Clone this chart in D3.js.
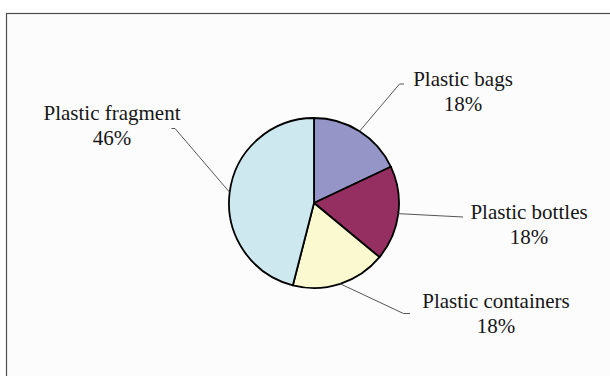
<!DOCTYPE html>
<html>
<head>
<meta charset="utf-8">
<script src="https://cdn.jsdelivr.net/npm/d3@7/dist/d3.min.js"></script>
<style>
  html, body { margin: 0; padding: 0; background: #ffffff; }
  svg { display: block; }
  text { font-family: "Liberation Serif", "Times New Roman", serif; fill: #161616; }
</style>
</head>
<body>
<svg id="chart" width="610" height="376"></svg>
<script>
// Composition of plastic debris (percent share)
const categories = ["Plastic bags", "Plastic bottles", "Plastic containers", "Plastic fragment"];
const shares = [18, 18, 18, 46];
const sliceColors = ["#9595c8", "#952f62", "#faf9cf", "#cde9ef"];

const W = 610, H = 376;
const cx = 314, cy = 203, R = 85;
const fontSize = 21, lineGap = 25;

// Label block placement: text centre x, first baseline y, and leader route
const labelLayout = {
  "Plastic bags":       { x: 463, y: 86,  route: [[399.5, 84], [404, 84]] },
  "Plastic bottles":    { x: 529, y: 219, route: [[463, 217]] },
  "Plastic containers": { x: 496, y: 308, route: [[403.5, 313.5], [410, 313.5]] },
  "Plastic fragment":   { x: 112, y: 120, route: [[175, 128.5], [171.5, 128.5]] }
};

const svg = d3.select("#chart");

// Chart area frame
svg.append("rect")
  .attr("x", 6.5).attr("y", 13.5)
  .attr("width", W + 20).attr("height", H + 20)
  .attr("fill", "#fcfcfc")
  .attr("stroke", "#4d4d4d")
  .attr("stroke-width", 1.2);

const data = categories.map((c, i) => ({ name: c, value: shares[i], color: sliceColors[i] }));

const pie = d3.pie().value(d => d.value).sort(null);
const arc = d3.arc().innerRadius(0).outerRadius(R);
const arcs = pie(data);

const g = svg.append("g").attr("transform", `translate(${cx},${cy})`);

// Leader lines from slice mid-angle on the rim to each label
const leaders = svg.append("g")
  .attr("fill", "none")
  .attr("stroke", "#555555")
  .attr("stroke-width", 1);

arcs.forEach(a => {
  const mid = (a.startAngle + a.endAngle) / 2;
  const start = [cx + R * Math.sin(mid), cy - R * Math.cos(mid)];
  const pts = [start].concat(labelLayout[a.data.name].route);
  leaders.append("path").attr("d", d3.line()(pts));
});

// Slices
g.selectAll("path.slice")
  .data(arcs)
  .join("path")
  .attr("class", "slice")
  .attr("d", arc)
  .attr("fill", d => d.data.color)
  .attr("stroke", "#000000")
  .attr("stroke-width", 1.8)
  .attr("stroke-linejoin", "round");

// Labels: category name and percentage
const labels = svg.append("g").attr("font-size", fontSize).attr("text-anchor", "middle");
arcs.forEach(a => {
  const L = labelLayout[a.data.name];
  const t = labels.append("text").attr("x", L.x).attr("y", L.y);
  t.append("tspan").attr("x", L.x).attr("y", L.y).text(a.data.name);
  t.append("tspan").attr("x", L.x).attr("y", L.y + lineGap).text(d3.format(".0f")(a.data.value) + "%");
});
</script>
</body>
</html>
